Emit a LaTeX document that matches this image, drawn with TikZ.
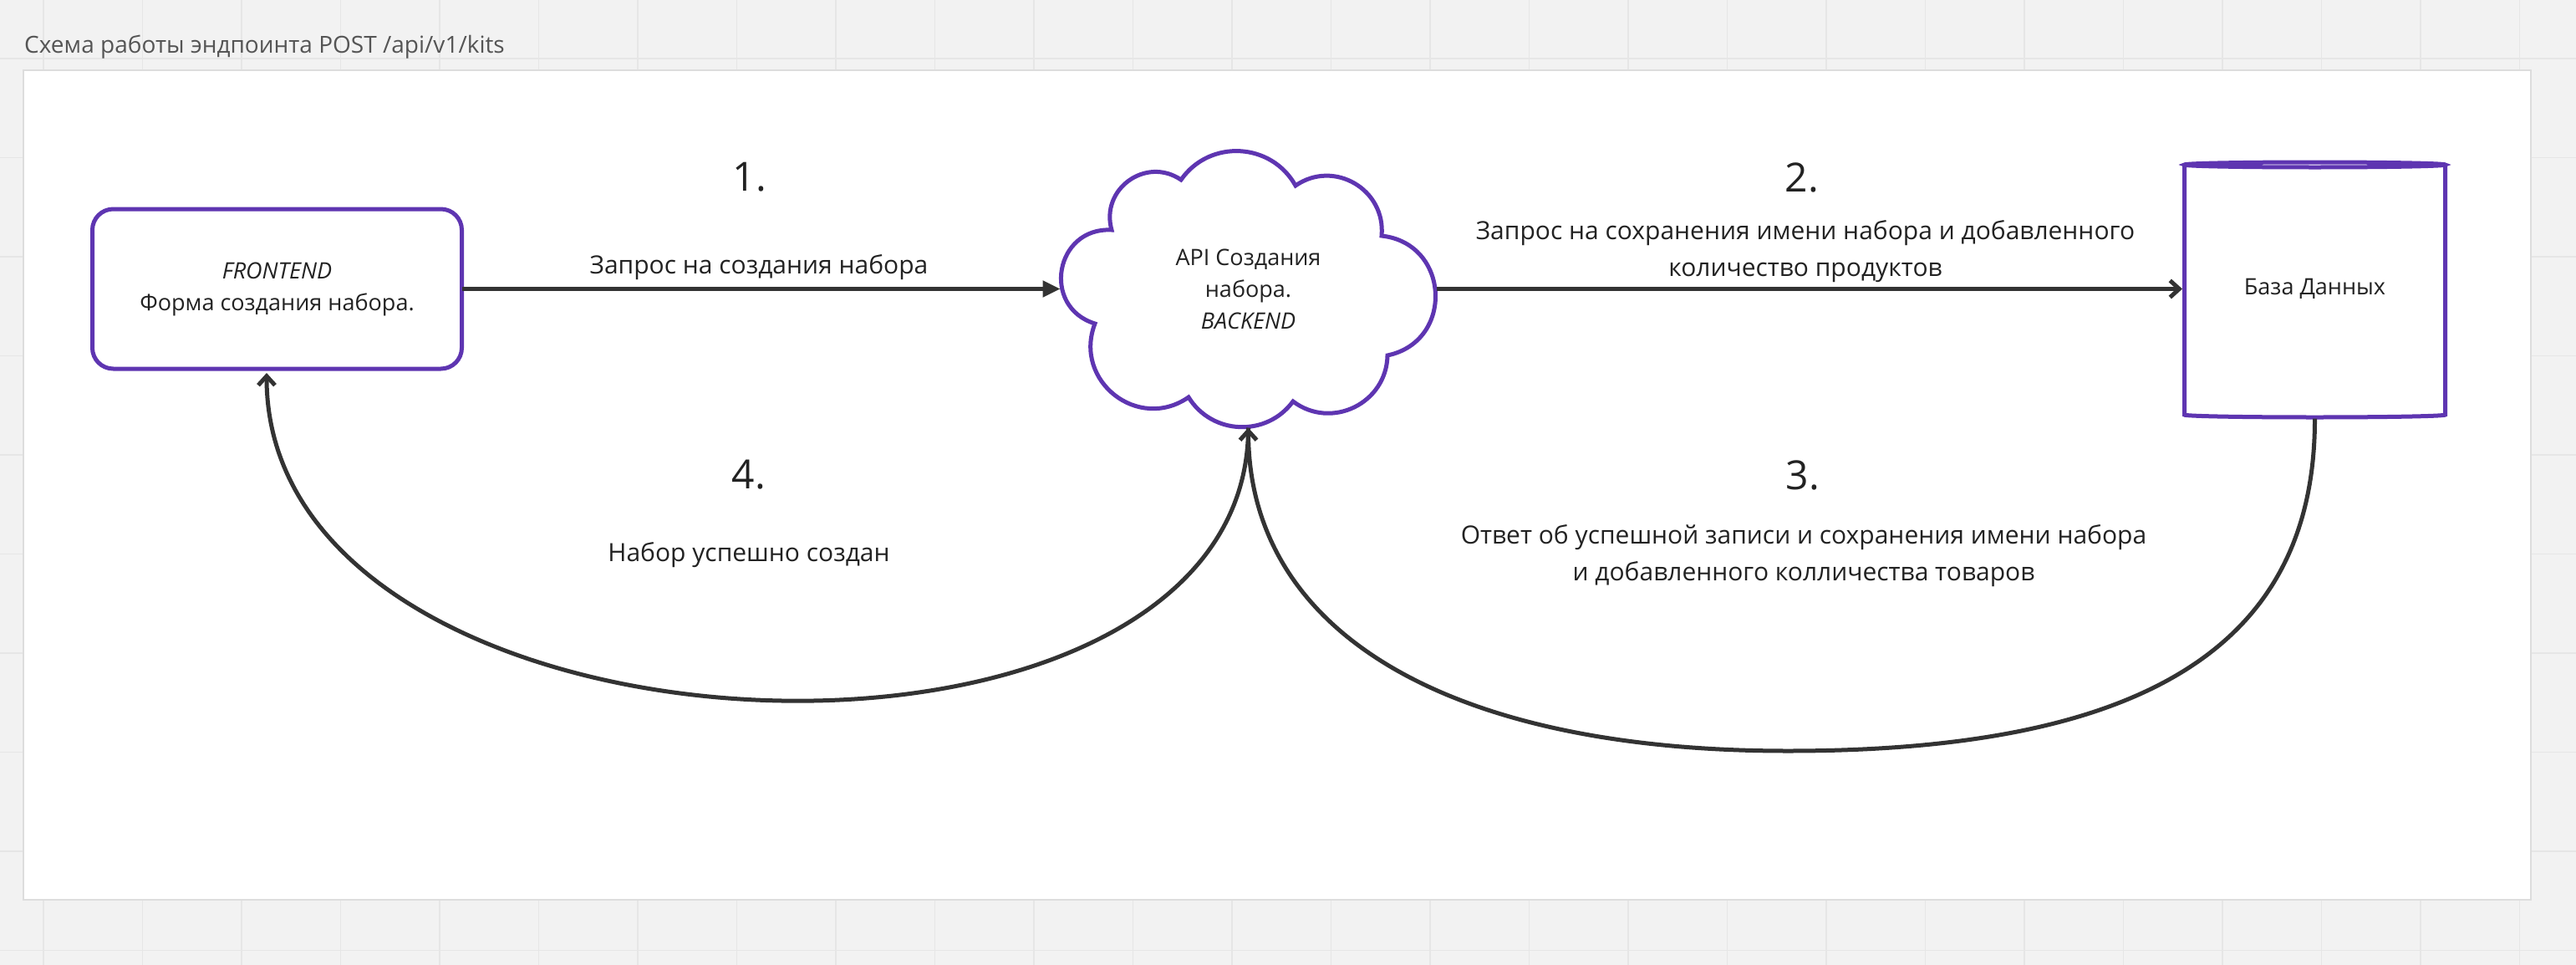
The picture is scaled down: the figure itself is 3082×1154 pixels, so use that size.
\documentclass[tikz,border=0pt]{standalone}
\usepackage{fontspec}
\setmainfont{Open Sans}
\usetikzlibrary{arrows.meta,calc}
\definecolor{bg}{HTML}{F2F2F2}
\definecolor{gridc}{HTML}{E6E6E6}
\definecolor{framec}{HTML}{DDDDDD}
\definecolor{purp}{HTML}{5E35B1}
\definecolor{ink}{HTML}{333333}
\definecolor{txt}{HTML}{222222}
\definecolor{titlec}{HTML}{555555}
\begin{document}
\begin{tikzpicture}[x=1pt,y=1pt,
  nodetext/.style={font=\fontsize{27}{38}\selectfont, text=txt, align=center},
  lbltext/.style={font=\fontsize{30}{44}\selectfont, text=txt, align=center},
  numtext/.style={font=\fontsize{48}{56}\selectfont, text=txt},
  box/.style={draw=purp, line width=5pt, fill=white},
  conn/.style={draw=ink, line width=5pt},
  tri/.style={-{Triangle[length=21pt,width=19pt]}},
  barb/.style={-{Straight Barb[length=11pt,width=20pt]}},
]
\useasboundingbox (0,0) rectangle (3082,-1154);
\fill[bg] (0,0) rectangle (3082,-1154);
\foreach \i in {0,...,25} \draw[gridc, line width=1.5pt] ({52+118.5*\i},0) -- ({52+118.5*\i},-1154);
\foreach \j in {0,...,9} \draw[gridc, line width=1.5pt] (0,{-70-118.5*\j}) -- (3082,{-70-118.5*\j});
\draw[framec, line width=2pt, fill=white] (28,-84) rectangle (3028,-1076);
\node[anchor=base west, font=\fontsize{28}{30}\selectfont, text=titlec, inner sep=0] (title) at (29,-63) {Схема работы эндпоинта POST /api/v1/kits};

% frontend
\node[box, nodetext, rounded corners=25pt, minimum width=442pt, minimum height=191pt, inner sep=0, outer sep=0] (fe) at (331.5,-345.5) {\textit{FRONTEND}\\Форма создания набора.};

% cloud
\draw[box] (1413,-215) to[bend left=58,looseness=1.11] (1550,-222)
  to[bend left=65,looseness=1.2] (1653,-282)
  to[bend left=81,looseness=1.47] (1660,-425)
  to[bend left=63,looseness=1.17] (1547,-480)
  to[bend left=56,looseness=1.09] (1422,-475)
  to[bend left=73,looseness=1.32] (1310,-387)
  to[bend left=83,looseness=1.52] (1330,-275)
  to[bend left=70,looseness=1.27] cycle;
\node[nodetext, minimum width=450pt, minimum height=332pt, inner sep=0, outer sep=0] (api) at (1493.5,-345.5) {API Создания\\набора.\\\textit{BACKEND}};

% database
\fill[white] (2613.5,-197) rectangle (2925.5,-496);
\draw[purp, line width=5pt] (2613.5,-197) -- (2613.5,-496) arc[start angle=180, end angle=360, x radius=156, y radius=3] -- (2925.5,-197);
\draw[purp, line width=5pt] (2769.5,-197) ellipse[x radius=156, y radius=3];
\node[nodetext, minimum width=317pt, minimum height=310pt, inner sep=0, outer sep=0] (db) at (2769.5,-345.5) {База Данных};

\coordinate (fein) at ($(fe.south)+(-12.5,-5)$);

% connectors
\draw[conn, tri] (fe.east) -- (api.west);
\draw[conn, barb] (api.east) -- (db.west);
\draw[conn, barb] (db.south) .. controls (2770,-771) and (2568,-898) .. (2139,-898)
  .. controls (1733,-898) and (1494,-757) .. (api.south);
\draw[conn, barb] (api.south) .. controls (1493,-978) and (319,-933) .. (fein);

% labels
\node[numtext] (n1) at (897,-212) {1.};
\node[lbltext] (l1) at (908,-320) {Запрос на создания набора};
\node[numtext] (n2) at (2156,-212) {2.};
\node[lbltext] (l2) at (2160,-301) {Запрос на сохранения имени набора и добавленного\\количество продуктов};
\node[numtext] (n3) at (2157,-568) {3.};
\node[lbltext] (l3) at (2158,-665) {Ответ об успешной записи и сохранения имени набора\\и добавленного колличества товаров};
\node[numtext] (n4) at (896,-568) {4.};
\node[lbltext] (l4) at (896,-664) {Набор успешно создан};
\end{tikzpicture}
\end{document}
